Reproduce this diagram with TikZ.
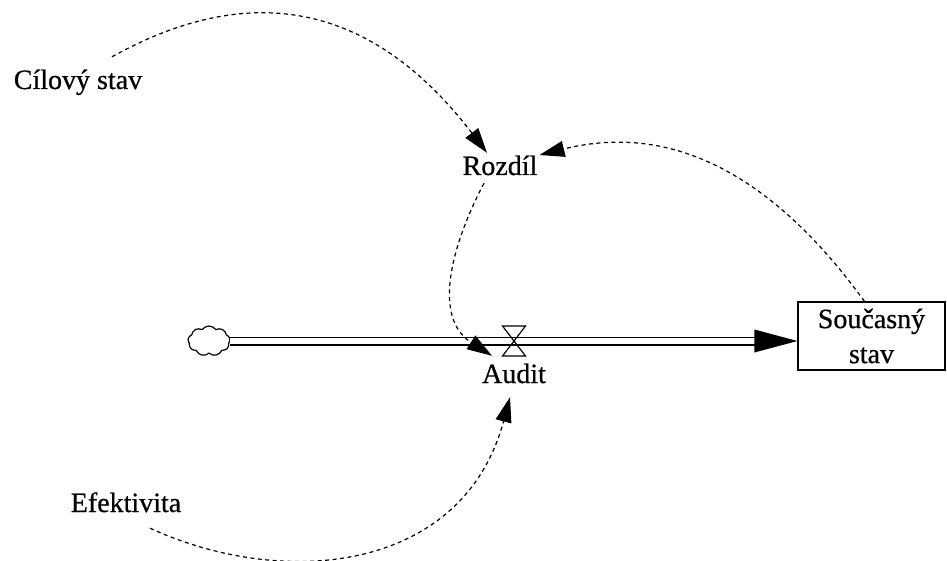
\documentclass[tikz,border=0pt]{standalone}
\usepackage{fontspec}
\setmainfont{Liberation Serif}
\newfontface\heavyserif{Liberation Serif}[FakeBold=0.6]
\usetikzlibrary{arrows.meta,shapes.symbols}
\begin{document}
\begin{tikzpicture}[x=1pt,y=-1pt,
  lbl/.style={font=\heavyserif\fontsize{28}{35}\selectfont, inner sep=2pt, text height=20pt, text depth=6pt, anchor=base},
  link/.style={line width=1.2pt, dash pattern=on 4pt off 3.5pt, -{Triangle[length=25pt,width=16pt]}},
  pipe/.style={double, double distance=6pt, line width=1.5pt},
  stockbox/.style={draw, line width=1.2pt, minimum width=147pt, minimum height=68pt, inner sep=0pt, align=center, font=\heavyserif\fontsize{28}{35}\selectfont}]
\useasboundingbox (0,0) rectangle (947,561);
\fill[white] (0,0) rectangle (947,561);
% nodes
\node[lbl] (cil) at (78,89) {Cílový stav};
\node[lbl] (rozdil) at (500,175) {Rozdíl};
\node[lbl] (audit) at (514,383) {Audit};
\node[lbl] (eff) at (126,512) {Efektivita};
\node[stockbox] (box) at (871.5,336) {Současný\\stav};
\node[cloud, draw, line width=1.2pt, cloud puffs=9, cloud puff arc=110, aspect=1.4, minimum width=42pt, minimum height=30pt, inner sep=0pt] (cloud) at (209,341) {};
\coordinate (valve) at (514,341);
% flow pipe
\coordinate (pend) at (cloud.east -| box.west);
\draw[pipe, shorten >=42pt] (cloud.east) -- (pend);
\fill (pend) -- ++(-43,-11.5) -- ++(0,23) -- cycle;
% valve
\draw[line width=1.2pt] ([shift={(-11.5,-15)}]valve) -- ([shift={(11.5,-15)}]valve) -- ([shift={(-11.5,15)}]valve) -- ([shift={(11.5,15)}]valve) -- cycle;
% links
\draw[link] ([xshift=34pt,yshift=10pt]cil.north) .. controls (243,-16) and (367,-4) .. ([xshift=-13pt]rozdil.north);
\draw[link] ([xshift=-7pt]box.north) .. controls (780,185) and (680,120) .. ([yshift=13pt]rozdil.east);
\draw[link] ([xshift=-16pt]rozdil.south) .. controls (450,248) and (433,318) .. ([xshift=-22pt,yshift=5pt]audit.north);
\draw[link] ([xshift=24pt,yshift=-8pt]eff.south) .. controls (285,590) and (463,572) .. ([xshift=-4pt,yshift=-6pt]audit.south);
\end{tikzpicture}
\end{document}
